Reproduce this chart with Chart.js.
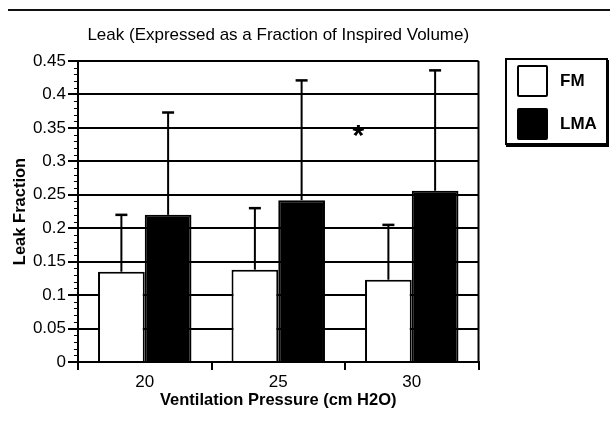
<!DOCTYPE html>
<html>
<head>
<meta charset="utf-8">
<title>Leak Fraction</title>
<script src="https://cdn.jsdelivr.net/npm/chart.js@4.4.0/dist/chart.umd.min.js"></script>
<style>
  body { margin: 0; background: #fff; font-family: "Liberation Sans", Arial, sans-serif; }
  #wrap { position: relative; width: 610px; height: 428px; }
  #rule { position: absolute; left: 8px; top: 9px; width: 602px; height: 2px; background: #111; }
  #legend { position: absolute; left: 505px; top: 58px; width: 99px; height: 83px;
            border: 2px solid #000; box-shadow: 1px 2px 0 #000; background: #fff; }
  .item { position: absolute; left: 10px; display: flex; align-items: center; }
  .sw { width: 27px; height: 28px; border: 2px solid #000; border-radius: 2px; }
  .lbl { margin-left: 12px; font-weight: bold; font-size: 17px; color: #000; }
</style>
</head>
<body>
<div id="wrap">
  <div id="rule"></div>
  <canvas id="leakChart" width="610" height="428"></canvas>
  <div id="legend"></div>
</div>
<script>
// Leak fraction by ventilation pressure, face mask vs laryngeal mask airway

const categories = ["20", "25", "30"];
const fmMean = [0.135, 0.138, 0.123];
const fmSD = [0.085, 0.092, 0.082];
const lmaMean = [0.22, 0.242, 0.256];
const lmaSD = [0.153, 0.179, 0.18];
const yTicks = [0, 0.05, 0.1, 0.15, 0.2, 0.25, 0.3, 0.35, 0.4, 0.45];
const starMark = { x: 1.6, y: 0.35 }; // "*" between 25 and 30

Chart.defaults.font.family = "'Liberation Sans', Arial, sans-serif";
Chart.defaults.color = "#000";

// error bars (upper only, with a cap)
const errorBars = {
  id: "errorBars",
  afterDatasetsDraw(chart) {
    const ctx = chart.ctx;
    const y = chart.scales.y;
    chart.data.datasets.forEach((ds, i) => {
      chart.getDatasetMeta(i).data.forEach((bar, j) => {
        const top = y.getPixelForValue(ds.data[j] + ds.sd[j]);
        ctx.save();
        ctx.strokeStyle = "#000";
        ctx.lineWidth = 2;
        ctx.beginPath();
        ctx.moveTo(bar.x, bar.y);
        ctx.lineTo(bar.x, top);
        ctx.stroke();
        ctx.lineWidth = 2.5;
        ctx.beginPath();
        ctx.moveTo(bar.x - 6, top);
        ctx.lineTo(bar.x + 6, top);
        ctx.stroke();
        ctx.restore();
      });
    });
  },
};

// frame, minor ticks and the significance star
const extras = {
  id: "extras",
  beforeDatasetsDraw(chart) {
    const { ctx, chartArea: a } = chart;
    ctx.save();
    ctx.strokeStyle = "#000";
    ctx.lineWidth = 2;
    ctx.beginPath();
    ctx.moveTo(a.right, a.top);
    ctx.lineTo(a.right, a.bottom);
    ctx.stroke();
    ctx.restore();
  },
  afterDraw(chart) {
    const { ctx } = chart;
    const x = chart.scales.x;
    const y = chart.scales.y;
    ctx.save();
    ctx.strokeStyle = "#000";
    ctx.lineWidth = 1;
    for (let k = 1; k < 45; k++) {
      if (k % 5 === 0) continue;
      const py = Math.round(y.getPixelForValue(k / 100)) + 0.5;
      ctx.beginPath();
      ctx.moveTo(y.right - 4, py);
      ctx.lineTo(y.right, py);
      ctx.stroke();
    }
    const i = Math.floor(starMark.x);
    const sx = x.getPixelForValue(i) + (starMark.x - i) * (x.getPixelForValue(i + 1) - x.getPixelForValue(i));
    const sy = y.getPixelForValue(starMark.y);
    const size = 30;
    ctx.fillStyle = "#000";
    ctx.font = "bold " + size + "px 'Liberation Sans', Arial, sans-serif";
    ctx.textAlign = "center";
    ctx.textBaseline = "alphabetic";
    ctx.fillText("*", sx, sy + size * 0.57);
    ctx.restore();
  },
};

const chart = new Chart(document.getElementById("leakChart"), {
  type: "bar",
  data: {
    labels: categories,
    datasets: [
      { label: "FM", data: fmMean, sd: fmSD, backgroundColor: "#fff", borderColor: "#000", borderWidth: 2 },
      { label: "LMA", data: lmaMean, sd: lmaSD, backgroundColor: "#000", borderColor: "#000", borderWidth: 2 },
    ],
  },
  options: {
    responsive: false,
    animation: false,
    categoryPercentage: 0.7,
    barPercentage: 1.0,
    layout: { padding: { left: 0, right: 131.5, top: 0, bottom: 0 } },
    plugins: {
      legend: { display: false },
      tooltip: { enabled: false },
      title: {
        display: true,
        fullSize: false,
        text: "Leak (Expressed as a Fraction of Inspired Volume)",
        color: "#000",
        font: { size: 17, weight: "normal" },
        padding: { top: 25, bottom: 15.6 },
      },
    },
    scales: {
      x: {
        grid: { offset: true, drawOnChartArea: false, tickLength: 8, color: "#000", lineWidth: 2 },
        border: { color: "#000", width: 2 },
        ticks: { font: { size: 17 }, color: "#000", padding: 2 },
        title: {
          display: true,
          text: "Ventilation Pressure (cm H2O)",
          color: "#000",
          font: { size: 16.5, weight: "bold" },
          padding: { top: 0, bottom: 18 },
        },
        afterFit(s) { s.height = 66; },
      },
      y: {
        min: 0,
        max: 0.45,
        afterBuildTicks(s) { s.ticks = yTicks.map((v) => ({ value: v })); },
        grid: { color: "#000", lineWidth: 2, tickLength: 10 },
        border: { color: "#000", width: 2 },
        ticks: { font: { size: 17 }, color: "#000", padding: 2, callback: (v) => String(v) },
        title: {
          display: true,
          text: "Leak Fraction",
          color: "#000",
          font: { size: 16.5, weight: "bold" },
          padding: { top: 11, bottom: 0 },
        },
        afterFit(s) { s.width = 78; },
      },
    },
  },
  plugins: [errorBars, extras],
});

// html legend built from the datasets
const legend = document.getElementById("legend");
chart.data.datasets.forEach((ds, i) => {
  const item = document.createElement("div");
  item.className = "item";
  item.style.top = (5 + i * 43) + "px";
  item.innerHTML = '<div class="sw" style="background:' + ds.backgroundColor + '"></div><span class="lbl">' + ds.label + "</span>";
  legend.appendChild(item);
});
</script>
</body>
</html>
